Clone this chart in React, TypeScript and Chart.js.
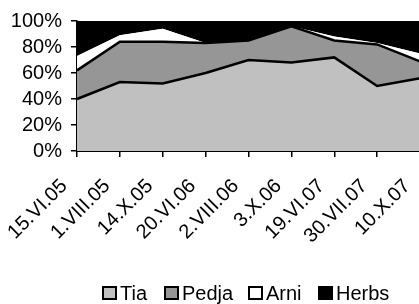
import React, { useEffect, useRef } from "react";
import { Chart, registerables } from "chart.js";

Chart.register(...registerables);

const categories = ["15.VI.05", "1.VIII.05", "14.X.05", "20.VI.06", "2.VIII.06", "3.X.06", "19.VI.07", "30.VII.07", "10.X.07"];
const tia = [40, 53, 52, 60, 70, 68, 72, 50, 56];
const pedja = [22, 31, 32, 23, 15, 28, 13, 32, 13];
const arni = [11, 5, 10, 0, 0, 0, 3, 1, 6];
const herbs = [27, 11, 6, 17, 15, 4, 12, 17, 25];
const yTicks = [0, 20, 40, 60, 80, 100];

const FONT = "'Liberation Sans', Arial, sans-serif";

const seriesNames = ["Tia", "Pedja", "Arni", "Herbs"];
const seriesColors = ["#c0c0c0", "#969696", "#ffffff", "#000000"];
const legendLefts = [102, 164, 248, 318];

const xLabelPlugin = {
  id: "xLabels",
  afterDraw(chart: any) {
    const ctx = chart.ctx;
    const xs = chart.scales.x;
    const bottom = chart.chartArea.bottom;
    ctx.save();
    ctx.font = `20px ${FONT}`;
    ctx.fillStyle = "#000";
    ctx.textAlign = "right";
    ctx.textBaseline = "alphabetic";
    categories.forEach((lab, i) => {
      const x = xs.getPixelForValue(i);
      ctx.save();
      ctx.translate(x - 9, bottom + 36);
      ctx.rotate(-Math.PI / 4);
      ctx.fillText(lab, 0, 0);
      ctx.restore();
    });
    ctx.restore();
  },
};

export default function App() {
  const ref = useRef<HTMLCanvasElement | null>(null);

  useEffect(() => {
    if (!ref.current) return;
    const data = [tia, pedja, arni, herbs];
    const chart = new Chart(ref.current, {
      type: "line",
      data: {
        labels: categories,
        datasets: data.map((d, i) => ({
          label: seriesNames[i],
          data: d,
          backgroundColor: seriesColors[i],
          borderColor: "#000",
          borderWidth: i < 2 ? 2.5 : 0,
          fill: i === 0 ? "origin" : "-1",
          pointRadius: 0,
          tension: 0,
        })),
      },
      options: {
        responsive: false,
        animation: false,
        layout: { padding: { top: 17, right: 20, left: 0, bottom: 0 } },
        plugins: {
          legend: { display: false },
          tooltip: { enabled: false },
        },
        scales: {
          x: {
            type: "category",
            offset: false,
            ticks: { display: false },
            grid: {
              display: true,
              drawOnChartArea: false,
              drawTicks: true,
              tickLength: 6,
              color: "#000",
              lineWidth: 1.5,
            },
            border: { display: true, color: "#000", width: 2 },
            afterFit(scale: any) {
              scale.height = 153;
            },
          },
          y: {
            stacked: true,
            min: 0,
            max: 100,
            afterBuildTicks(scale: any) {
              scale.ticks = yTicks.map((v) => ({ value: v }));
            },
            ticks: {
              autoSkip: false,
              padding: 9,
              color: "#000",
              font: { family: FONT, size: 20 },
              callback: (v: any) => `${v}%`,
            },
            grid: {
              display: true,
              drawOnChartArea: false,
              drawTicks: true,
              tickLength: 6,
              color: "#000",
              lineWidth: 1.5,
            },
            border: { display: true, color: "#000", width: 1.5 },
            afterFit(scale: any) {
              scale.width = 77;
            },
          },
        },
      },
      plugins: [xLabelPlugin],
    });
    return () => chart.destroy();
  }, []);

  return (
    <div
      style={{
        position: "fixed",
        left: 0,
        top: 0,
        width: 419,
        height: 304,
        overflow: "hidden",
        background: "#fff",
      }}
    >
      <canvas ref={ref} width={440} height={304} style={{ width: 440, height: 304, display: "block" }} />
      {seriesNames.map((n, i) => (
        <div
          key={n}
          style={{
            position: "absolute",
            left: legendLefts[i],
            top: 283,
            height: 20,
            display: "flex",
            alignItems: "center",
            fontFamily: FONT,
            fontSize: 20,
            lineHeight: "20px",
            color: "#000",
            whiteSpace: "nowrap",
          }}
        >
          <span
            style={{
              display: "inline-block",
              width: 15,
              height: 14,
              boxSizing: "border-box",
              border: "2px solid #000",
              background: seriesColors[i],
              marginRight: 3,
            }}
          />
          <span>{n}</span>
        </div>
      ))}
    </div>
  );
}
